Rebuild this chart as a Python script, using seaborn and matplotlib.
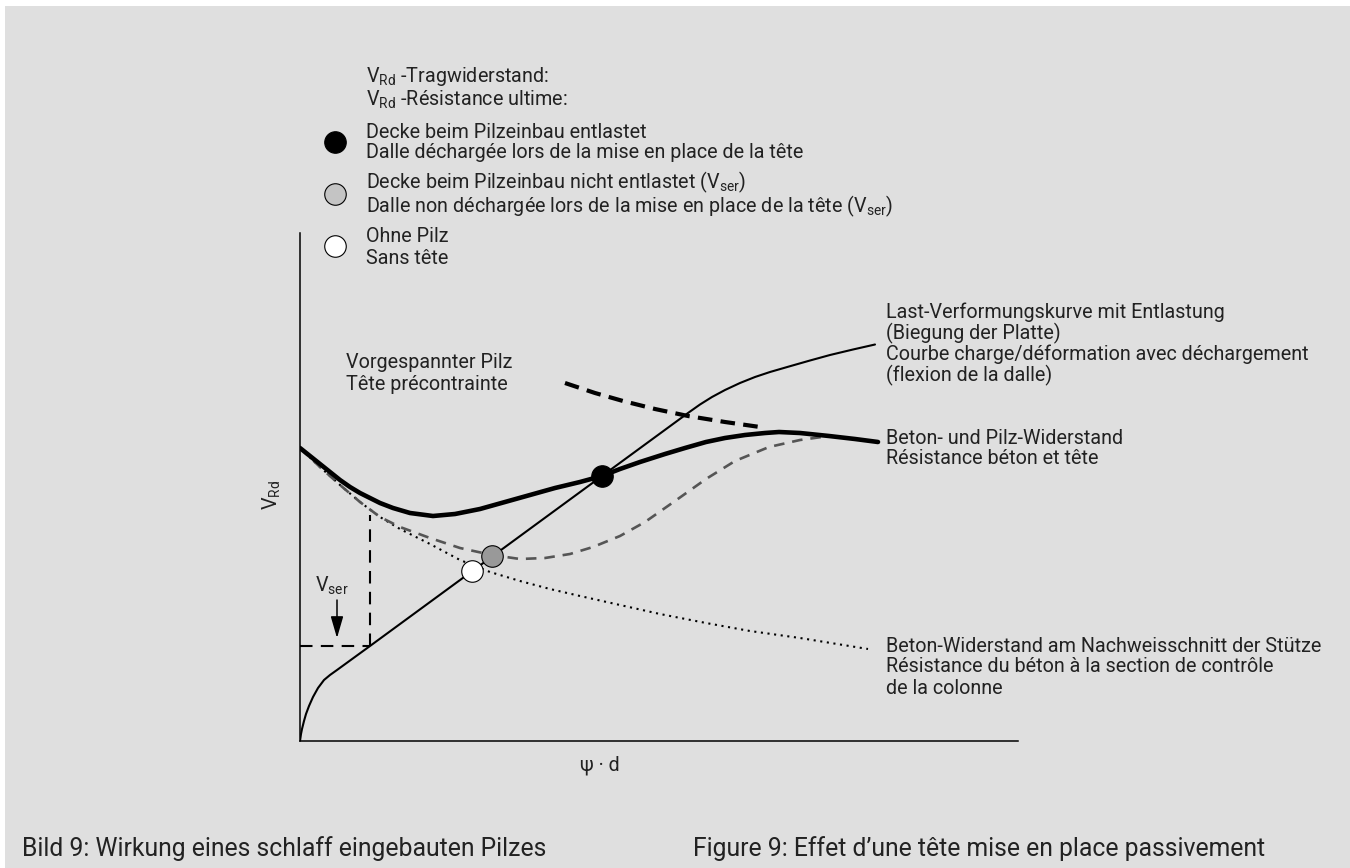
import matplotlib
matplotlib.use("Agg")
import matplotlib.pyplot as plt
from matplotlib.patches import Rectangle
import seaborn as sns

# Schematic curves: horizontal = ψ·d, vertical = V_Rd (arbitrary units)
load_x = [0, 1, 2, 4, 6, 9, 13, 18, 24, 30, 37, 70, 302, 388, 400, 412, 425, 440, 455,
          470, 489, 510, 530, 553, 575]
load_y = [0, 7, 12, 20, 27, 35, 44, 53, 61, 66, 71, 95, 265, 328, 336.5, 344, 351, 358,
          364, 369, 374.5, 380.5, 386, 391.5, 396.5]

combined_x = [0, 10, 20, 30, 40, 50, 60, 70, 80, 93, 110, 133, 155, 180, 205, 230, 255,
              280, 302, 320, 340, 365, 385, 406, 425, 445, 465, 479, 500, 529, 555, 578]
combined_y = [293, 285, 277, 269, 261, 254, 248, 243, 238, 233, 228, 225, 227, 232, 239,
              246, 253, 259, 265, 272, 279, 287, 293, 299, 303, 306, 308, 309, 308, 305,
              302, 299]

passive_x = [0, 20, 40, 60, 80, 100, 130, 160, 192, 220, 245, 270, 293, 320, 345, 375,
             406, 435, 469, 500, 529]
passive_y = [293, 274, 256, 239, 224, 214, 203, 193, 186, 182, 183, 187, 194, 205, 219,
             240, 262, 280, 294, 301, 305]

concrete_x = [0, 20, 40, 60, 80, 100, 130, 160, 190, 220, 250, 280, 320, 360, 406, 450,
              500, 568]
concrete_y = [293, 274, 256, 239, 224, 212, 197, 181, 169, 160, 152, 145, 136, 127, 118,
              110, 103, 92]

prestress_x = [265, 295, 323, 355, 388, 425, 460]
prestress_y = [358, 348, 340, 332, 325, 319, 314]

# Points on the load-deformation curve
pt_unloaded = (302, 265)
pt_loaded = (192, 185)
pt_none = (172, 170)

v_ser = 95
v_ser_x = 70
v_ser_top = 226

sns.set_style("white")
plt.rcParams["font.family"] = ["Roboto", "DejaVu Sans"]
plt.rcParams["mathtext.default"] = "regular"

FS = 14.2
W, H = 1350, 868
fig = plt.figure(figsize=(W / 100, H / 100), dpi=100, facecolor="white")
fig.patches.append(Rectangle((5 / W, 0), 1, 1 - 6 / H, transform=fig.transFigure,
                             facecolor="#dfdfdf", edgecolor="none", zorder=-10))

ax = fig.add_axes([300 / W, 1 - 741 / H, 718 / W, 508 / H])
ax.set_facecolor("none")
ax.set_xlim(0, 718)
ax.set_ylim(0, 508)
for s in ("top", "right"):
    ax.spines[s].set_visible(False)
for s in ("left", "bottom"):
    ax.spines[s].set_color("black")
    ax.spines[s].set_linewidth(1.1)
ax.set_xticks([])
ax.set_yticks([])

kw = dict(ax=ax, sort=False, estimator=None, legend=False)
sns.lineplot(x=concrete_x, y=concrete_y, color="black", lw=1.5,
             linestyle=(0, (1, 2.2)), **kw)
sns.lineplot(x=passive_x, y=passive_y, color="#555555", lw=1.9,
             linestyle=(0, (4, 3)), **kw)
sns.lineplot(x=combined_x, y=combined_y, color="black", lw=3.3,
             solid_capstyle="round", solid_joinstyle="round", **kw)
sns.lineplot(x=load_x, y=load_y, color="black", lw=1.5,
             solid_joinstyle="round", **kw)
sns.lineplot(x=prestress_x, y=prestress_y, color="black", lw=3.0,
             linestyle=(0, (3.5, 2)), **kw)

# V_ser construction lines
sns.lineplot(x=[0, v_ser_x], y=[v_ser, v_ser], color="black", lw=1.5,
             linestyle=(0, (6, 4)), **kw)
sns.lineplot(x=[v_ser_x, v_ser_x], y=[v_ser, v_ser_top], color="black", lw=1.5,
             linestyle=(0, (6, 4)), **kw)
ax.annotate("", xy=(37, v_ser + 8), xytext=(37, v_ser + 46),
            arrowprops=dict(arrowstyle="-|>,head_length=0.55,head_width=0.16",
                            mutation_scale=24, color="black", lw=1.1,
                            shrinkA=0, shrinkB=0))
ax.text(32, v_ser + 60, "V$_{ser}$", ha="center", va="center", fontsize=FS,
        color="#222222")

# Markers on the curves
sns.scatterplot(x=[pt_none[0]], y=[pt_none[1]], color="white", edgecolor="black",
                linewidth=0.8, s=240, zorder=5, ax=ax, legend=False)
sns.scatterplot(x=[pt_loaded[0]], y=[pt_loaded[1]], color="#999999", edgecolor="black",
                linewidth=0.8, s=240, zorder=5, ax=ax, legend=False)
sns.scatterplot(x=[pt_unloaded[0]], y=[pt_unloaded[1]], color="black", edgecolor="black",
                linewidth=0.8, s=240, zorder=5, ax=ax, legend=False)

# Key symbols
key_x = [35, 35, 35]
key_y = [599, 547, 495]
key_colors = ["black", "#c4c4c4", "white"]
for kx, ky, kc in zip(key_x, key_y, key_colors):
    sns.scatterplot(x=[kx], y=[ky], color=kc, edgecolor="black", linewidth=0.8,
                    s=240, zorder=5, ax=ax, legend=False, clip_on=False)


def ftext(x, y, s, size=FS, **k):
    fig.text(x / W, 1 - y / H, s, fontsize=size, va="center", ha="left",
             color="#222222", **k)


ftext(366, 77, "V$_{Rd}$ -Tragwiderstand:")
ftext(366, 100, "V$_{Rd}$ -Résistance ultime:")
ftext(366, 132, "Decke beim Pilzeinbau entlastet")
ftext(366, 153, "Dalle déchargée lors de la mise en place de la tête")
ftext(366, 182, "Decke beim Pilzeinbau nicht entlastet (V$_{ser}$)")
ftext(366, 206, "Dalle non déchargée lors de la mise en place de la tête (V$_{ser}$)")
ftext(366, 237, "Ohne Pilz")
ftext(366, 258, "Sans tête")

ftext(346, 363, "Vorgespannter Pilz")
ftext(346, 384, "Tête précontrainte")

ftext(886, 312, "Last-Verformungskurve mit Entlastung")
ftext(886, 333, "(Biegung der Platte)")
ftext(886, 354, "Courbe charge/déformation avec déchargement")
ftext(886, 375, "(flexion de la dalle)")

ftext(886, 438, "Beton- und Pilz-Widerstand")
ftext(886, 459, "Résistance béton et tête")

ftext(886, 646, "Beton-Widerstand am Nachweisschnitt der Stütze")
ftext(886, 667, "Résistance du béton à la section de contrôle")
ftext(886, 689, "de la colonne")

fig.text(600 / W, 1 - 765 / H, "ψ · d", fontsize=FS, ha="center", va="center",
         color="#222222")
fig.text(272 / W, 1 - 495 / H, "V$_{Rd}$", fontsize=FS, ha="center", va="center",
         rotation=90, color="#222222")

ftext(22, 849, "Bild 9: Wirkung eines schlaff eingebauten Pilzes", size=17.8)
ftext(693, 849, "Figure 9: Effet d\u2019une tête mise en place passivement", size=17.8)

fig.savefig("out.png", dpi=100, facecolor=fig.get_facecolor())
